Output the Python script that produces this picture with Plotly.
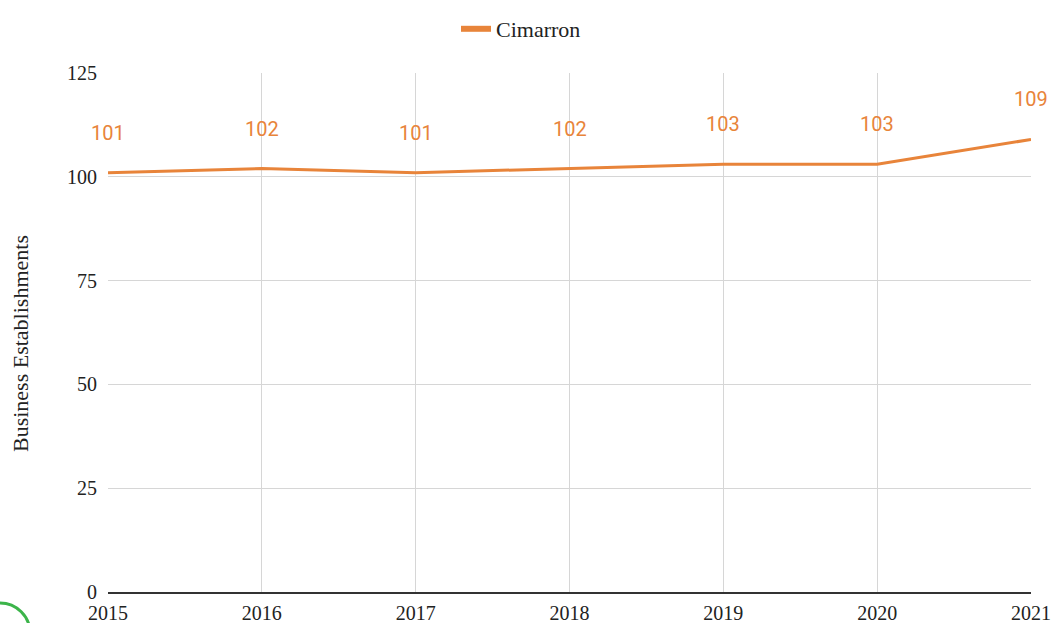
import plotly.graph_objects as go

years = [2015, 2016, 2017, 2018, 2019, 2020, 2021]
establishments = [101, 102, 101, 102, 103, 103, 109]
series_name = "Cimarron"
y_ticks = [0, 25, 50, 75, 100, 125]

orange = "#e8843a"
serif = "Liberation Serif, Times New Roman, serif"

W, H = 1053, 623
L, R, T, B = 108, 22, 73, 31
PW, PH = W - L - R, H - T - B


def px_x(p):
    return (p - L) / PW


def px_y(p):
    return (H - B - p) / PH


fig = go.Figure()
fig.add_trace(go.Scatter(
    x=years, y=establishments, mode="lines", name=series_name, showlegend=False,
    line=dict(color=orange, width=3), hoverinfo="x+y"))
# legend entry (thicker swatch as in reference)
fig.add_trace(go.Scatter(
    x=[None], y=[None], mode="lines", name=series_name, showlegend=True,
    line=dict(color=orange, width=6), hoverinfo="skip"))

for x, y in zip(years, establishments):
    fig.add_annotation(x=x, y=y, text=str(y), showarrow=False, yshift=40,
                       xanchor="center", yanchor="middle",
                       font=dict(family="Roboto, sans-serif", size=20, color=orange))

fig.add_annotation(xref="paper", yref="paper", x=px_x(20), y=px_y(344),
                   xanchor="center", yanchor="middle",
                   text="Business Establishments", textangle=-90, showarrow=False,
                   font=dict(family=serif, size=22, color="#222"))

# decorative green circle in bottom-left corner
fig.add_shape(type="circle", xref="paper", yref="paper",
              x0=px_x(-30), x1=px_x(30), y0=px_y(603), y1=px_y(663),
              line=dict(color="#3cb44a", width=3))

fig.update_layout(
    width=W, height=H,
    margin=dict(l=L, r=R, t=T, b=B, autoexpand=False),
    paper_bgcolor="white", plot_bgcolor="white",
    font=dict(family=serif, size=20, color="#222"),
    showlegend=True,
    legend=dict(orientation="h", x=px_x(456), xanchor="left", y=px_y(29), yanchor="middle",
                font=dict(family=serif, size=22, color="#222")),
    xaxis=dict(range=[2015, 2021], tickmode="array", tickvals=years, ticktext=[str(y) for y in years],
               showgrid=True, gridcolor="#d6d6d6", gridwidth=1, zeroline=False, automargin=False,
               showline=True, linecolor="#333", linewidth=1.5,
               ticks="outside", ticklen=2, tickcolor="rgba(0,0,0,0)",
               tickfont=dict(family=serif, size=20, color="#222")),
    yaxis=dict(range=[0, 125], tickmode="array", tickvals=y_ticks, automargin=False,
               showgrid=True, gridcolor="#d6d6d6", gridwidth=1, zeroline=False,
               showline=False, ticks="outside", ticklen=6, tickcolor="rgba(0,0,0,0)",
               tickfont=dict(family=serif, size=20, color="#222")),
)

fig.write_html("out.html", config={"displayModeBar": False},
               post_script="document.body.style.margin='0px';document.body.style.overflow='hidden';")
